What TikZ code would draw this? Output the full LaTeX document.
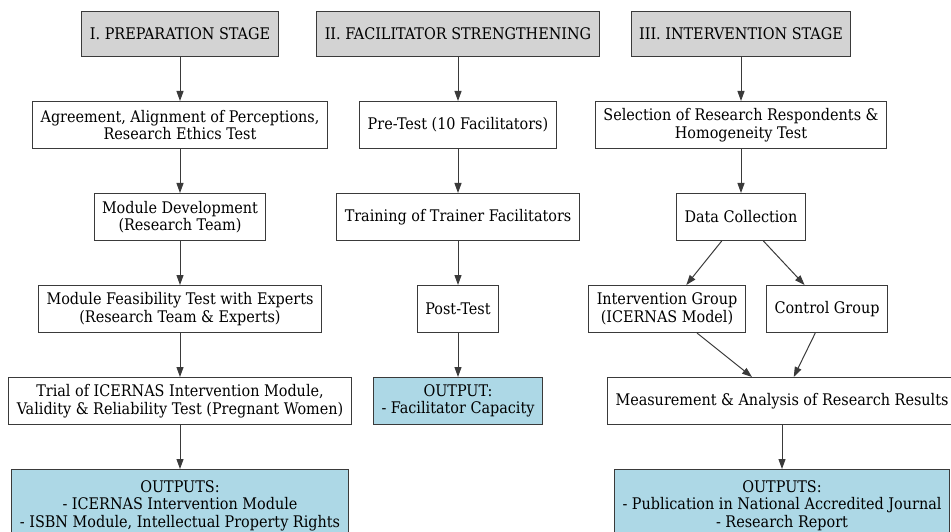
\documentclass[tikz,border=0pt]{standalone}
\usepackage{fontspec}
\setmainfont{DejaVu Serif Condensed}
\usetikzlibrary{arrows.meta,positioning}
\definecolor{Gris}{HTML}{D3D3D3}
\definecolor{Celeste}{HTML}{ADD8E6}
\definecolor{Borde}{HTML}{3A3A3A}

\begin{document}
\begin{tikzpicture}[x=1pt,y=1pt,node distance=44pt and 20pt,
        caja/.style={draw=Borde,fill=white,line width=1pt,minimum height=47pt,inner xsep=8pt,inner ysep=2pt,align=center,font=\fontsize{16}{17.5}\selectfont},
        etapa/.style={caja,fill=Gris,minimum height=45pt},
        salida/.style={caja,fill=Celeste},
        flecha/.style={-{Triangle[length=10pt,width=7pt]},line width=1pt,draw=Borde}]
        \useasboundingbox (0,-532) rectangle (951,0);
        \node[etapa] (prep) at (180,-34) {I. PREPARATION STAGE};
        \node[etapa] (fac) at (458,-34) {II. FACILITATOR STRENGTHENING};
        \node[etapa] (int) at (741,-34) {III. INTERVENTION STAGE};
        % etapa I
        \node[caja,below=of prep] (agr) {Agreement, Alignment of Perceptions,\\Research Ethics Test};
        \node[caja,below=of agr] (mdev) {Module Development\\(Research Team)};
        \node[caja,below=of mdev] (feas) {Module Feasibility Test with Experts\\(Research Team \& Experts)};
        \node[caja,below=of feas] (trial) {Trial of ICERNAS Intervention Module,\\Validity \& Reliability Test (Pregnant Women)};
        \node[salida,below=of trial,minimum height=72pt] (out1) {OUTPUTS:\\- ICERNAS Intervention Module\\- ISBN Module, Intellectual Property Rights};
        % etapa II
        \node[caja,below=of fac] (pre) {Pre-Test (10 Facilitators)};
        \node[caja,below=of pre] (trn) {Training of Trainer Facilitators};
        \node[caja,below=of trn] (post) {Post-Test};
        \node[salida,below=of post] (out2) {OUTPUT:\\- Facilitator Capacity};
        % etapa III
        \node[caja,below=of int] (sel) {Selection of Research Respondents \&\\Homogeneity Test};
        \node[caja,below=of sel] (data) {Data Collection};
        \node[caja,below=of data,xshift=-74pt] (igr) {Intervention Group\\(ICERNAS Model)};
        \node[caja,below=of data,xshift=86pt] (cgr) {Control Group};
        \node[caja,below=of igr,xshift=115pt] (meas) {Measurement \& Analysis of Research Results};
        \node[salida,below=of meas,minimum height=72pt] (out3) {OUTPUTS:\\- Publication in National Accredited Journal\\- Research Report};
        \draw[flecha] (prep) -- (agr);
        \draw[flecha] (agr) -- (mdev);
        \draw[flecha] (mdev) -- (feas);
        \draw[flecha] (feas) -- (trial);
        \draw[flecha] (trial) -- (out1);
        \draw[flecha] (fac) -- (pre);
        \draw[flecha] (pre) -- (trn);
        \draw[flecha] (trn) -- (post);
        \draw[flecha] (post) -- (out2);
        \draw[flecha] (int) -- (sel);
        \draw[flecha] (sel) -- (data);
        \draw[flecha] (data) -- (igr);
        \draw[flecha] (data) -- (cgr);
        \draw[flecha] (igr) -- (meas);
        \draw[flecha] (cgr) -- (meas);
        \draw[flecha] (meas) -- (out3);
      \end{tikzpicture}
\end{document}
